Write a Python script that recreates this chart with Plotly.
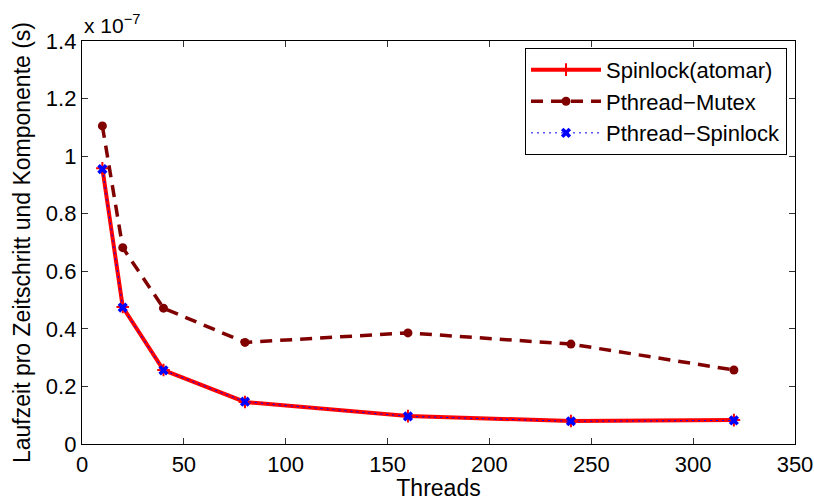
import plotly.graph_objects as go

threads = [10, 20, 40, 80, 160, 240, 320]
spinlock_atomar = [0.958, 0.476, 0.257, 0.146, 0.097, 0.080, 0.083]   # x 1e-7 s
pthread_mutex = [1.105, 0.682, 0.472, 0.353, 0.386, 0.347, 0.257]
pthread_spinlock = [0.955, 0.474, 0.256, 0.147, 0.096, 0.079, 0.082]
scale = 1e-7
ytick_vals = [0, 0.2, 0.4, 0.6, 0.8, 1.0, 1.2, 1.4]
ytick_text = ["0", "0.2", "0.4", "0.6", "0.8", "1", "1.2", "1.4"]
xtick_vals = [0, 50, 100, 150, 200, 250, 300, 350]

font = "Liberation Sans, Arial, sans-serif"

fig = go.Figure()
fig.add_trace(go.Scatter(
    x=threads, y=[v * scale for v in spinlock_atomar], name="Spinlock(atomar)",
    mode="lines+markers",
    line=dict(color="#FF0000", width=4),
    marker=dict(symbol="cross-thin", size=9, line=dict(color="#FF0000", width=2)),
))
fig.add_trace(go.Scatter(
    x=threads, y=[v * scale for v in pthread_mutex], name="Pthread\u2212Mutex",
    mode="lines+markers",
    line=dict(color="#800000", width=3.5, dash="12px,8px"),
    marker=dict(symbol="circle", size=9, color="#800000"),
))
fig.add_trace(go.Scatter(
    x=threads, y=[v * scale for v in pthread_spinlock], name="Pthread\u2212Spinlock",
    mode="lines+markers",
    line=dict(color="#0000FF", width=1, dash="2px,4px"),
    marker=dict(symbol="x", size=9, color="#0000FF"),
))

axis_common = dict(
    showline=True, linecolor="black", linewidth=1.3, mirror="ticks",
    ticks="inside", ticklen=6, tickcolor="#333", tickwidth=1,
    showgrid=False, zeroline=False, automargin=False,
    tickfont=dict(family=font, size=22, color="black"),
)

fig.update_layout(
    width=814, height=501,
    margin=dict(l=82, r=19, t=41, b=57),
    paper_bgcolor="white", plot_bgcolor="white",
    font=dict(family=font, color="black"),
    xaxis=dict(range=[0, 350], tickvals=xtick_vals,
               title=dict(text="Threads", font=dict(family=font, size=23), standoff=0),
               **axis_common),
    yaxis=dict(range=[0, 1.4 * scale], tickvals=[v * scale for v in ytick_vals],
               ticktext=ytick_text,
               title=dict(text="Laufzeit pro Zeitschritt und Komponente (s)",
                          font=dict(family=font, size=23), standoff=8),
               **axis_common),
    legend=dict(x=0.9888, y=0.983, xanchor="right", yanchor="top",
                bordercolor="black", borderwidth=1, bgcolor="white",
                font=dict(family=font, size=22), tracegroupgap=0, itemwidth=70),
    showlegend=True,
)

fig.add_annotation(
    text="x 10<sup>\u22127</sup>", xref="paper", yref="paper",
    x=0.0, y=1.0, xanchor="left", yanchor="bottom", yshift=2, showarrow=False,
    font=dict(family=font, size=21, color="black"),
)

fig.write_html("out.html")
